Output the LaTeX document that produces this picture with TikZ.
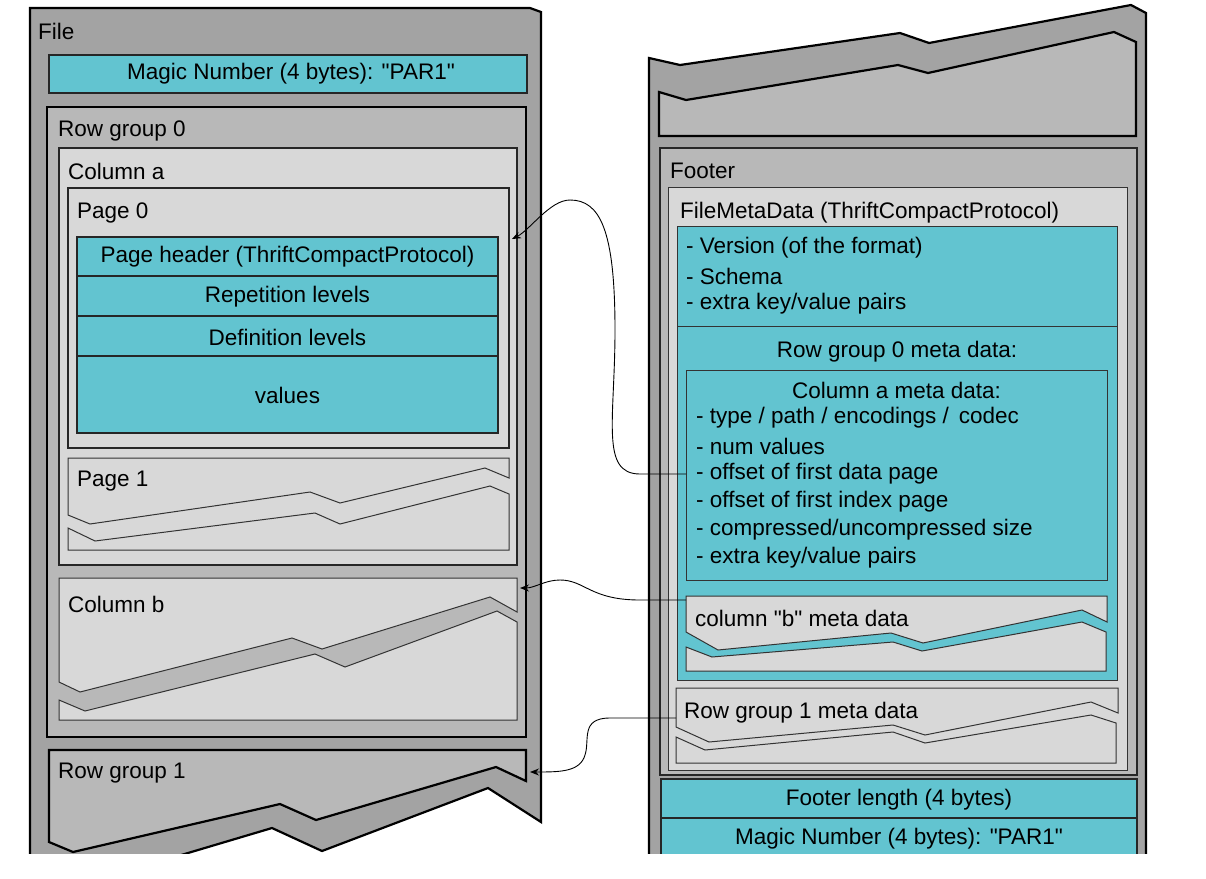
\documentclass[tikz,border=0pt]{standalone}
\usepackage{fontspec}
\setmainfont{Liberation Sans}[Ligatures=TeXOff]
\usetikzlibrary{arrows.meta}
\definecolor{cy}{HTML}{62C4D0}
\definecolor{gA}{HTML}{A3A3A3}
\definecolor{gB}{HTML}{B8B8B8}
\definecolor{gC}{HTML}{D8D8D8}
\newcommand{\qq}{\char34\relax}
\begin{document}
\begin{tikzpicture}[x=1pt,y=-1pt,
  txt/.style={font=\fontsize{22.5}{26}\selectfont,inner sep=0pt},
  lbl/.style={txt,anchor=west},
  thick/.style={draw=black,line width=2.2pt},
  med/.style={draw=black!85,line width=1.4pt},
  thin/.style={draw=black!80,line width=1pt},
  conn/.style={draw=black,line width=0.9pt,-{Stealth[length=9pt,width=7pt]}}]
\useasboundingbox (0,0) rectangle (1206,878);
\fill[white] (0,0) rectangle (1206,878);
\begin{scope}
\clip (0,0) rectangle (1206,853);
% ===== left file =====
\path[fill=gA,thick] (30,8) -- (530,8) -- (541,12) -- (541,822) -- (488,788) -- (322,851) -- (272,828) -- (30,900) -- cycle;
\node[lbl] (file) at (38,31) {File};
\path[fill=cy,med] (49,55) rectangle (527,93);
\node[txt] (magic1) at (291,74) {Magic Number (4 bytes): \qq PAR1\qq};
% row group 0
\path[fill=gB,thick] (47,107) rectangle (526,737);
\node[lbl] (rg0) at (58,131) {Row group 0};
\path[fill=gC,med] (59,148) rectangle (517,565);
\node[lbl] (cola) at (68,171) {Column a};
\path[fill=gC,med] (68,188) rectangle (509,448);
\node[lbl] (p0) at (77,213) {Page 0};
\path[fill=cy,med] (77,237) rectangle (498,433);
\draw[med] (77,276) -- (498,276) (77,316) -- (498,316) (77,356) -- (498,356);
\node[txt] (ph) at (287.5,257) {Page header (ThriftCompactProtocol)};
\node[txt] (rep) at (287.5,297) {Repetition levels};
\node[txt] (def) at (287.5,337) {Definition levels};
\node[txt] (vals) at (287.5,395) {values};
% page 1
\path[fill=gC,thin] (68,458) -- (509,458) -- (509,478) -- (485,468) -- (340,503) -- (310,492) -- (90,524) -- (68,515) -- cycle;
\path[fill=gC,thin] (68,528) -- (95,541) -- (315,513) -- (340,524) -- (490,486) -- (509,494) -- (509,550) -- (68,550) -- cycle;
\node[lbl] (p1) at (77,481) {Page 1};
% column b
\path[fill=gC,thin] (59,578) -- (517,578) -- (517,612) -- (490,597) -- (322,649) -- (292,638) -- (80,692) -- (59,682) -- cycle;
\path[fill=gC,thin] (59,700) -- (85,711) -- (315,654) -- (345,667) -- (497,611) -- (517,622) -- (517,720) -- (59,720) -- cycle;
\node[lbl] (colb) at (68,604) {Column b};
% row group 1
\path[fill=gB,thick] (49,750) -- (526,750) -- (526,781) -- (496,767) -- (316,820) -- (280,804) -- (73,852) -- (49,842) -- cycle;
\node[lbl] (rg1) at (58,773) {Row group 1};
% ===== right file =====
\path[fill=gA,thick] (649,58) -- (680,65) -- (900,33) -- (929,43) -- (1131,5) -- (1146,13) -- (1146,900) -- (649,900) -- cycle;
\path[fill=gB,thick] (659,92) -- (686,100) -- (898,65) -- (928,73) -- (1114,32) -- (1136,42) -- (1136,136) -- (659,136) -- cycle;
\path[fill=gB,med] (660,148) rectangle (1137,775);
\node[lbl] (footer) at (670,171) {Footer};
\path[fill=gC,thin] (668,187) rectangle (1127,770);
\node[lbl] (fmd) at (680,213) {FileMetaData (ThriftCompactProtocol)};
\path[fill=cy,thin] (677,226) rectangle (1117,326);
\node[lbl] (ver) at (686,248) {- Version (of the format)};
\node[lbl] (sch) at (686,276) {- Schema};
\node[lbl] (kv1) at (686,304) {- extra key/value pairs};
\path[fill=cy,thin] (677,326) rectangle (1117,680);
\node[txt] (rg0m) at (897,352) {Row group 0 meta data:};
\path[fill=cy,thin] (686,370) rectangle (1107,580);
\node[txt] (cam) at (896.5,390) {Column a meta data:};
\node[lbl] (l1) at (696,418) {- type / path / encodings / \,codec};
\node[lbl] (l2) at (696,446) {- num values};
\node[lbl] (offs) at (696,474) {- offset of first data page};
\node[lbl] (l4) at (696,502) {- offset of first index page};
\node[lbl] (l5) at (696,530) {- compressed/uncompressed size};
\node[lbl] (l6) at (696,558) {- extra key/value pairs};
% column b meta
\path[fill=gC,thin] (686,596) -- (1107,596) -- (1107,622) -- (1082,610) -- (923,643) -- (891,633) -- (718,650) -- (686,632) -- cycle;
\path[fill=gC,thin] (686,647) -- (712,657) -- (893,642) -- (922,651) -- (1082,622) -- (1106,632) -- (1106,671) -- (686,671) -- cycle;
\node[lbl] (cbm) at (695,618) {column \qq b\qq\ meta data};
% row group 1 meta
\path[fill=gC,thin] (676,688) -- (1118,688) -- (1118,713) -- (1091,702) -- (925,735) -- (893,725) -- (709,742) -- (676,727) -- cycle;
\path[fill=gC,thin] (676,737) -- (705,750) -- (893,732) -- (925,743) -- (1091,715) -- (1116,723) -- (1116,763) -- (676,763) -- cycle;
\node[lbl] (rg1m) at (684,713) {Row group 1 meta data};
% footer length / magic
\path[fill=cy,med] (661,779) rectangle (1137,818);
\path[fill=cy,med] (661,818) rectangle (1137,880);
\node[txt] (flen) at (899,800) {Footer length (4 bytes)};
\node[txt] (magic2) at (899,839) {Magic Number (4 bytes): \qq PAR1\qq};
\end{scope}
% ===== connectors =====
\coordinate (c1) at (686,474);
\coordinate (c2) at (686,600);
\coordinate (c3) at (676,718);
\draw[conn] (c1) -- (640,474) .. controls (600,474) and (615,420) .. (615,330)
  .. controls (615,230) and (600,200) .. (570,200) .. controls (550,200) and (530,230) .. (512,239);
\draw[conn] (c2) -- (640,600) .. controls (590,600) and (585,580) .. (560,580) .. controls (545,580) and (535,588) .. (520,588);
\draw[conn] (c3) -- (610,718) .. controls (580,718) and (590,740) .. (585,755) .. controls (580,772) and (560,772) .. (530,772);
\end{tikzpicture}
\end{document}
